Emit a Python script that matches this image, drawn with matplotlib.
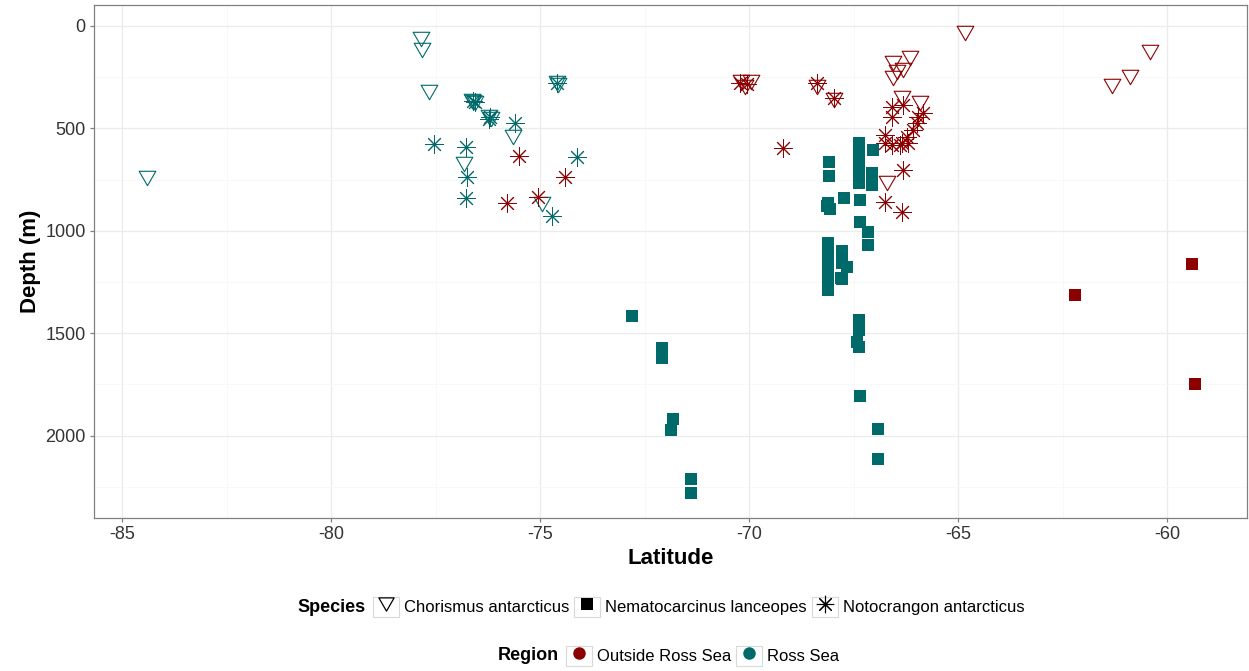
import matplotlib
matplotlib.use('Agg')
import matplotlib.pyplot as plt
from matplotlib.path import Path
from matplotlib.patches import Rectangle
from matplotlib.lines import Line2D

plt.rcParams['font.family'] = ['Liberation Sans', 'DejaVu Sans']
plt.rcParams['axes.unicode_minus'] = False

# ---- data (latitude, depth in m) ----
# Chorismus antarcticus
cho_ross_lat = [-84.40, -77.85, -77.82, -77.66, -76.62, -76.55, -76.60, -76.22, -76.17,
                -75.65, -74.57, -74.60, -76.82, -74.95]
cho_ross_dep = [742, 63, 117, 322, 366, 376, 371, 445, 452, 542, 288, 280, 674, 869]
cho_out_lat = [-70.20, -69.96, -70.10, -68.38, -67.97, -66.55, -66.15, -66.47, -66.31,
               -66.55, -66.35, -65.91, -66.71, -64.83, -60.41, -60.90, -61.32]
cho_out_dep = [272, 272, 300, 296, 361, 182, 158, 223, 215, 255, 353, 377, 768, 34, 125, 247, 293]

# Nematocarcinus lanceopes
nem_ross_lat = [-72.79, -72.08, -72.08, -71.83, -71.88, -71.39, -71.39,
                -67.36, -67.36, -67.41, -67.36, -67.34, -66.92, -66.92,
                -68.10, -68.10, -68.11, -68.06, -68.13, -67.74,
                -67.37, -67.37, -67.37, -67.37, -67.37, -67.03, -67.06, -67.06, -67.34,
                -67.34, -67.15, -67.15,
                -68.11, -68.11, -68.11, -68.11, -68.11, -68.11,
                -67.78, -67.78, -67.78, -67.66, -67.80]
nem_ross_dep = [1415, 1572, 1621, 1916, 1973, 2212, 2282,
                1436, 1484, 1541, 1566, 1807, 1965, 2116,
                662, 731, 864, 893, 878, 842,
                571, 630, 689, 742, 767, 605, 718, 776, 850,
                957, 1006, 1069,
                1060, 1110, 1160, 1215, 1262, 1289,
                1099, 1157, 1235, 1175, 1230]
nem_out_lat = [-59.40, -62.20, -59.33]
nem_out_dep = [1162, 1313, 1748]

# Notocrangon antarcticus
not_ross_lat = [-76.60, -76.55, -76.20, -76.22, -75.60, -74.59, -77.54, -76.77, -76.75,
                -76.77, -74.11, -74.71]
not_ross_dep = [366, 372, 444, 452, 474, 280, 576, 591, 737, 840, 640, 928]
not_out_lat = [-75.50, -74.40, -75.79, -75.05, -69.19, -70.23, -70.05, -68.38, -67.97,
               -66.59, -66.59, -66.31, -65.95, -65.83, -65.99, -66.07, -66.75, -66.23,
               -66.35, -66.59, -66.75, -66.31, -66.75, -66.35, -66.40, -66.19]
not_out_dep = [635, 737, 864, 835, 596, 280, 285, 280, 353,
               394, 443, 386, 443, 426, 475, 508, 532, 540,
               573, 581, 573, 703, 858, 907, 581, 573]

species = ['Chorismus antarcticus', 'Nematocarcinus lanceopes', 'Notocrangon antarcticus']
regions = ['Outside Ross Sea', 'Ross Sea']
RED = '#8b0000'
TEAL = '#006a6a'

tri = Path([(-1.0, 0.866), (1.0, 0.866), (0.0, -0.866), (-1.0, 0.866)],
           [Path.MOVETO, Path.LINETO, Path.LINETO, Path.CLOSEPOLY])
star = (8, 2, 0)

fig = plt.figure(figsize=(12.49, 6.71), dpi=100)
ax = fig.add_axes([0.0753, 0.2285, 0.9231, 0.764])

tri_kw = dict(ls='none', marker=tri, ms=12, mfc='none', mew=0.8)
sq_kw = dict(ls='none', marker='s', ms=9.3, mew=0)
st_kw = dict(ls='none', marker=star, ms=13, mew=0.7)

ax.plot(nem_ross_lat, nem_ross_dep, color=TEAL, **sq_kw)
ax.plot(nem_out_lat, nem_out_dep, color=RED, **sq_kw)
ax.plot(cho_ross_lat, cho_ross_dep, mec=TEAL, **tri_kw)
ax.plot(cho_out_lat, cho_out_dep, mec=RED, **tri_kw)
ax.plot(not_ross_lat, not_ross_dep, mec=TEAL, **st_kw)
ax.plot(not_out_lat, not_out_dep, mec=RED, **st_kw)

ax.set_xticks([-85, -80, -75, -70, -65, -60])
ax.set_xticks([-82.5, -77.5, -72.5, -67.5, -62.5], minor=True)
ax.set_yticks([0, 500, 1000, 1500, 2000])
ax.set_yticks([250, 750, 1250, 1750, 2250], minor=True)
ax.set_xlim(-85.67, -58.09)
ax.set_ylim(2400, -102)
ax.grid(True, which='major', color='#ebebeb', lw=0.9)
ax.grid(True, which='minor', color='#f5f5f5', lw=0.5)
ax.set_axisbelow(True)
for s in ax.spines.values():
    s.set_color('#808080')
    s.set_linewidth(0.9)
ax.tick_params(which='major', length=3, width=0.9, color='#808080',
               labelsize=13, labelcolor='#333333', pad=3)
ax.tick_params(which='minor', length=0)

ax.set_xlabel('Latitude', fontsize=16, fontweight='bold')
ax.xaxis.set_label_coords(0.5, -0.079)
ax.xaxis.label.set_va('center')
ax.set_ylabel('Depth (m)', fontsize=16, fontweight='bold')
ax.yaxis.set_label_coords(-0.0555, 0.5)
ax.yaxis.label.set_va('center')


def key_box():
    return Rectangle((0, 0), 1, 1, facecolor='white', edgecolor='#d9d9d9', lw=0.8)


sp_handles = [
    (key_box(), Line2D([], [], ls='none', marker=tri, ms=11, mfc='none', mec='black', mew=0.9)),
    (key_box(), Line2D([], [], ls='none', marker='s', ms=8.5, color='black', mew=0)),
    (key_box(), Line2D([], [], ls='none', marker=star, ms=12.5, mec='black', mew=0.8)),
]
rg_handles = [
    (key_box(), Line2D([], [], ls='none', marker='o', ms=9, color=RED, mew=0)),
    (key_box(), Line2D([], [], ls='none', marker='o', ms=9, color=TEAL, mew=0)),
]

leg_kw = dict(frameon=False, fontsize=12, handlelength=1.56, handleheight=1.56,
              handletextpad=0.3, columnspacing=0.3, borderpad=0, borderaxespad=0,
              loc='center left')
fig.legend(sp_handles, species, ncol=3, bbox_to_anchor=(373 / 1249, 1 - 607 / 671), **leg_kw)
fig.legend(rg_handles, regions, ncol=2, bbox_to_anchor=(566 / 1249, 1 - 656 / 671), **leg_kw)
fig.text(366 / 1249, 1 - 607 / 671, 'Species', ha='right', va='center',
         fontsize=13, fontweight='bold')
fig.text(559 / 1249, 1 - 656 / 671, 'Region', ha='right', va='center',
         fontsize=13, fontweight='bold')

fig.savefig('out.png', dpi=100)
